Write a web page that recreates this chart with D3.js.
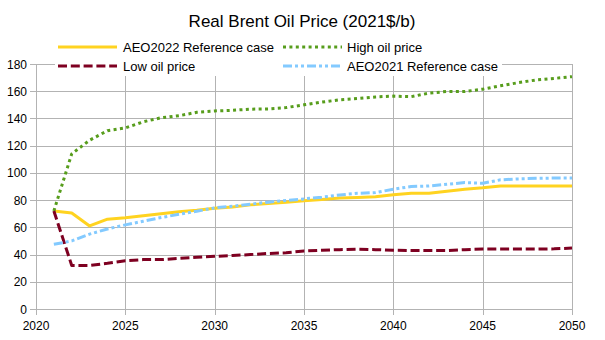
<!DOCTYPE html>
<html>
<head>
<meta charset="utf-8">
<script src="https://cdn.jsdelivr.net/npm/d3@7"></script>
<style>
  body { margin: 0; background: white; }
  text { font-family: "Liberation Sans", Arial, sans-serif; fill: #000; }
</style>
</head>
<body>
<div id="chart"></div>
<script>

const years = d3.range(2021, 2051)

const aeo2022Ref = [72, 70.5, 61, 66, 67, 68.5, 70, 71.5, 72.5, 74,
                    75, 76.5, 77.5, 78.5, 79.5, 80.5, 81.5, 82, 82.5, 84,
                    85, 85, 86.5, 88, 89, 90.3, 90.3, 90.3, 90.3, 90.3]
const highOil = [72, 114, 124, 131, 133, 137.5, 140.5, 142, 144.5, 145.5,
                 146, 146.8, 147, 148, 150, 152, 153.7, 154.6, 155.8, 156.4,
                 156, 158.6, 159.8, 159.8, 161.5, 164, 166.3, 168.3, 169.4, 170.7]
const lowOil = [72, 32, 32, 33.6, 35.5, 36.3, 36.3, 37.2, 38, 38.7,
                39.3, 40, 40.8, 41.3, 42.6, 43.2, 43.6, 43.9, 43.6, 43.1,
                43, 43, 43, 43.6, 44, 44, 44, 44, 44.2, 44.8]
const aeo2021Ref = [47.5, 50, 55, 58.8, 61.8, 64.5, 67.2, 69.6, 71.8, 74.3,
                    75.5, 77, 78.5, 79.7, 80.9, 82.1, 83.8, 85, 85.5, 88,
                    90, 90.4, 91.6, 92.9, 92.4, 94.9, 95.6, 96, 96.2, 96.2]

const xTicks = [2020, 2025, 2030, 2035, 2040, 2045, 2050]
const yTicks = [0, 20, 40, 60, 80, 100, 120, 140, 160, 180]

const series = [
    { name: "AEO2022 Reference case", values: aeo2022Ref, color: "#ffd320", dash: null },
    { name: "High oil price", values: highOil, color: "#579d1c", dash: "3,3.4" },
    { name: "Low oil price", values: lowOil, color: "#7e0021", dash: "9,3.8" },
    { name: "AEO2021 Reference case", values: aeo2021Ref, color: "#83caff", dash: "9,3,3,3,3,3" }
]

const width = 605
const height = 340
const gridColor = "#b3b3b3"

const svg = d3.select("#chart").append("svg")
    .attr("width", width)
    .attr("height", height)

const x = d3.scaleLinear().domain([2020, 2050]).range([36, 572])
const y = d3.scaleLinear().domain([0, 180]).range([309, 64])

// title
svg.append("text")
    .attr("x", 302)
    .attr("y", 27)
    .attr("text-anchor", "middle")
    .style("font-size", "17px")
    .text("Real Brent Oil Price (2021$/b)")

// grid
svg.append("g").selectAll("line")
    .data(yTicks)
    .join("line")
    .attr("x1", x(2020) - 6)
    .attr("x2", x(2050))
    .attr("y1", d => Math.round(y(d)) + 0.5)
    .attr("y2", d => Math.round(y(d)) + 0.5)
    .style("stroke", gridColor)

svg.append("g").selectAll("line")
    .data(xTicks)
    .join("line")
    .attr("x1", d => Math.round(x(d)) + 0.5)
    .attr("x2", d => Math.round(x(d)) + 0.5)
    .attr("y1", y(180))
    .attr("y2", y(0) + 6)
    .style("stroke", gridColor)

// tick labels
svg.append("g").selectAll("text")
    .data(yTicks)
    .join("text")
    .attr("x", 27)
    .attr("y", d => y(d) + 4.5)
    .attr("text-anchor", "end")
    .style("font-size", "12px")
    .text(d => d)

svg.append("g").selectAll("text")
    .data(xTicks)
    .join("text")
    .attr("x", d => x(d))
    .attr("y", 330)
    .attr("text-anchor", "middle")
    .style("font-size", "12px")
    .text(d => d)

// series
const line = d3.line()
    .x((d, i) => x(years[i]))
    .y(d => y(d))

svg.append("g").selectAll("path")
    .data(series)
    .join("path")
    .attr("d", d => line(d.values))
    .style("fill", "none")
    .style("stroke", d => d.color)
    .style("stroke-width", 3)
    .style("stroke-linejoin", "round")
    .style("stroke-dasharray", d => d.dash)

// legend (white box sits over the top gridline)
const legend = svg.append("g")

legend.append("rect")
    .attr("x", 55)
    .attr("y", 37)
    .attr("width", 447)
    .attr("height", 39)
    .style("fill", "white")

const legendItems = legend.selectAll("g")
    .data(series)
    .join("g")
    .attr("transform", (d, i) => "translate(" + (i % 2 === 0 ? 58 : 283) + "," + (i < 2 ? 47 : 66) + ")")

legendItems.append("line")
    .attr("x1", 0)
    .attr("x2", 59)
    .style("stroke", d => d.color)
    .style("stroke-width", 3)
    .style("stroke-dasharray", d => d.dash)

legendItems.append("text")
    .attr("x", (d, i) => i % 2 === 0 ? 65 : 64)
    .attr("y", 5)
    .style("font-size", "13px")
    .text(d => d.name)

</script>
</body>
</html>
